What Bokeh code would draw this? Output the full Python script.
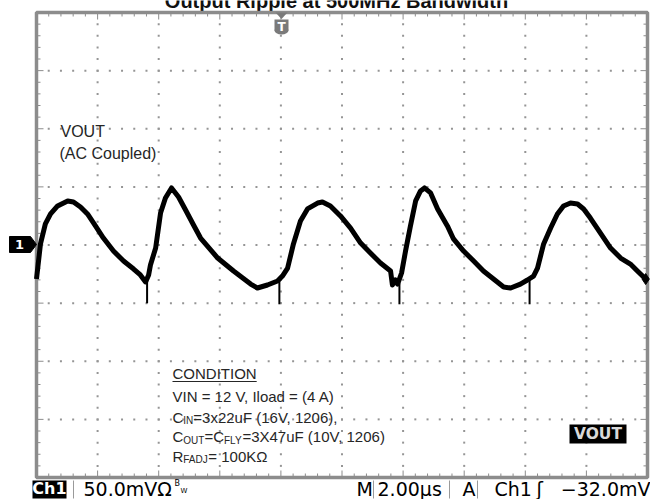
import numpy as np
from bokeh.plotting import figure
from bokeh.models import Range1d
from bokeh.core.properties import value
from bokeh.embed import file_html
from bokeh.resources import INLINE

# ---------------- data ----------------
# time in microseconds (2 us/div, 10 div), voltage in mV (50 mV/div, 8 div, AC coupled)
t_us = [0.00, 0.13, 0.29, 0.46, 0.69, 1.02, 1.21, 1.44, 1.67, 1.93,
        2.19, 2.52, 2.85, 3.18, 3.40, 3.57, 3.67, 3.73, 3.90, 4.06,
        4.22, 4.42, 4.65, 4.88, 5.14, 5.37, 5.93, 6.45, 7.01, 7.23,
        7.56, 7.89, 8.05, 8.22, 8.41, 8.64, 8.87, 9.20, 9.36, 9.62,
        9.95, 10.28, 10.61, 10.93, 11.26, 11.59, 11.65, 11.75, 11.82, 11.95,
        12.08, 12.24, 12.41, 12.57, 12.70, 12.90, 13.13, 13.45, 13.65, 13.98,
        14.31, 14.63, 14.96, 15.29, 15.52, 15.84, 16.07, 16.27, 16.40, 16.60,
        16.83, 17.05, 17.25, 17.48, 17.71, 17.91, 18.13, 18.46, 18.79, 19.12,
        19.44, 19.67, 19.94]
v_mV = [-29.3, 0.9, 18.1, 26.7, 33.6, 37.9, 37.0, 32.7, 26.7, 16.4,
        6.0, -5.2, -13.8, -20.7, -25.8, -31.8, -25.8, -17.2, -2.6, 27.5,
        40.4, 49.1, 41.3, 30.1, 17.2, 6.0, -11.2, -22.4, -33.6, -37.0,
        -34.4, -31.0, -26.7, -19.8, 0.9, 20.7, 31.0, 36.1, 37.0, 33.6,
        25.0, 14.6, 1.7, -6.9, -15.5, -22.4, -34.4, -30.1, -33.6, -24.1,
        -5.2, 16.4, 37.9, 46.5, 49.1, 44.8, 31.0, 16.4, 5.2, -5.2,
        -13.8, -22.4, -29.3, -36.1, -37.0, -33.6, -30.1, -26.7, -19.8, 0.9,
        14.6, 26.7, 33.6, 36.1, 35.3, 31.0, 23.2, 10.3, -2.6, -11.2,
        -16.4, -22.4, -29.3]
# switching spikes
spike_t = [3.62, 7.95, 11.88, 16.14]
spike_top = [-31.0, -30.0, -33.0, -29.0]
spike_bottom = [-50.0, -51.0, -51.0, -51.0]

us_per_div = 2.0
mV_per_div = 50.0
n_xdiv = 10
n_ydiv = 8

title_text = "Output Ripple at 500MHz Bandwidth"
trace_label = ["VOUT", "(AC Coupled)"]
status_ch = "Ch1"
status_scale = "50.0mVΩ"
status_time = "2.00µs"
status_trig_ch = "Ch1"
status_trig_level = "−32.0mV"

# ---------------- layout ----------------
W, H = 650, 499
gx0, gx1 = 36.0, 647.0      # graticule left/right in px
gy0, gy1 = 12.0, 477.0      # graticule top/bottom in px
t_max = us_per_div * n_xdiv
v_half = mV_per_div * n_ydiv / 2
ppu = (gx1 - gx0) / t_max           # px per us
ppm = (gy1 - gy0) / (2 * v_half)    # px per mV


def X(px):
    return (px - gx0) / ppu


def Y(py):
    return v_half - (py - gy0) / ppm


p = figure(width=W, height=H,
           x_range=Range1d(X(0), X(W)), y_range=Range1d(Y(H), Y(0)),
           output_backend="svg", toolbar_location=None,
           x_axis_location=None, y_axis_location=None,
           min_border=0, min_border_left=0, min_border_right=0,
           min_border_top=0, min_border_bottom=0)
p.outline_line_color = None
p.grid.visible = False
p.background_fill_color = "white"
p.border_fill_color = "white"

GRAY = "#8c8c8c"
DOT = "#959595"
TXT = "#262626"


def text(x, y, s, size, font="Liberation Sans", color=TXT, align="left",
         style="normal"):
    # y is the vertical centre of the capitals
    p.text(x=[x], y=[y], text=[s], text_font=value(font),
           text_font_size=value(f"{size}px"), text_color=color,
           text_align=align, text_baseline="middle", text_font_style=style)


# title (clipped at top like the original)
text(X(336), Y(0), title_text, 20, style="bold", color="#111111", align="center")

# ---------------- graticule ----------------
xmaj = np.arange(1, n_xdiv) * us_per_div
ymaj = (np.arange(1, n_ydiv) - n_ydiv / 2) * mV_per_div
xmin = np.arange(1, n_xdiv * 5) * us_per_div / 5
ymin = (np.arange(1, n_ydiv * 5) - n_ydiv * 5 / 2) * mV_per_div / 5

dx, dy = np.meshgrid(xmin, ymaj)
ex, ey = np.meshgrid(xmaj, ymin)
p.scatter(np.concatenate([dx.ravel(), ex.ravel()]),
          np.concatenate([dy.ravel(), ey.ravel()]),
          marker="square", size=2, fill_color=DOT, line_color=None)

# edge ticks
tl_x = np.where(np.isclose(xmin % us_per_div, 0), 7, 4) / ppm
tl_y = np.where(np.isclose(np.abs(ymin) % mV_per_div, 0), 7, 4) / ppu
p.segment(xmin, v_half, xmin, v_half - tl_x, line_color=GRAY, line_width=1)
p.segment(xmin, -v_half, xmin, -v_half + tl_x, line_color=GRAY, line_width=1)
p.segment(0, ymin, tl_y, ymin, line_color=GRAY, line_width=1)
p.segment(t_max, ymin, t_max - tl_y, ymin, line_color=GRAY, line_width=1)

p.quad(left=0, right=t_max, bottom=-v_half, top=v_half,
       fill_color=None, line_color=GRAY, line_width=3.5)

# ---------------- waveform ----------------
p.line(t_us, v_mV, line_color="black", line_width=5, line_join="round")
p.segment(spike_t, spike_top, spike_t, spike_bottom, line_color="black", line_width=2)
p.scatter([t_us[-1]], [v_mV[-1]], marker="diamond", size=11, color="black")

# ---------------- markers ----------------
# channel 1 ground marker
p.patch([X(9), X(30), X(36), X(30), X(9)],
        [Y(236), Y(236), Y(244), Y(252), Y(252)], fill_color="black", line_color="black")
text(X(19), Y(244), "1", 13, font="DejaVu Sans", color="white", align="center",
     style="bold")

# trigger position marker
tx = 281
p.patch([X(tx - 6), X(tx + 6), X(tx)], [Y(12), Y(12), Y(18.5)],
        fill_color="#7a7a7a", line_color=None)
p.rect([X(tx)], [Y(24.5)], width=14 / ppu, height=11 / ppm, fill_color="#7a7a7a", line_color=None)
p.ellipse([X(tx)], [Y(30)], width=14 / ppu, height=8 / ppm, fill_color="#7a7a7a", line_color=None)
text(X(tx), Y(26), "T", 12, font="DejaVu Sans", color="white", align="center",
     style="bold")

# ---------------- annotations ----------------
text(X(60), Y(131), trace_label[0], 16)
text(X(59), Y(152.5), trace_label[1], 16)

cx0 = 172
text(X(cx0), Y(373), "CONDITION", 15)
p.segment(X(cx0), Y(381), X(cx0 + 84.2), Y(381), line_color=TXT, line_width=1.2)
text(X(cx0), Y(395.5), "VIN = 12 V, Iload = (4 A)", 15)
# C_IN line
text(X(cx0), Y(416.5), "C", 15)
text(X(cx0 + 10.8), Y(420), "IN", 10)
text(X(cx0 + 20.8), Y(416.5), "=3x22uF (16V, 1206),", 15)
# C_OUT = C_FLY line
text(X(cx0), Y(436), "C", 15)
text(X(cx0 + 10.8), Y(439.5), "OUT", 10)
text(X(cx0 + 31.9), Y(436), "=C", 15)
text(X(cx0 + 51.5), Y(439.5), "FLY", 10)
text(X(cx0 + 69.9), Y(436), "=3X47uF (10V, 1206)", 15)
# R_FADJ line
text(X(cx0), Y(455.5), "R", 15)
text(X(cx0 + 10.8), Y(459), "FADJ", 10)
text(X(cx0 + 35.8), Y(455.5), "= 100KΩ", 15)

# VOUT tag box
p.quad(left=X(569), right=X(626), top=Y(424), bottom=Y(443),
       fill_color="black", line_color=None)
text(X(597.5), Y(433.5), "VOUT", 15.5, font="DejaVu Sans", color="#d9d9d9",
     align="center", style="bold")

# ---------------- status bar ----------------
SF = "DejaVu Sans"
sb = Y(488)
p.quad(left=X(32), right=X(66), top=Y(480), bottom=Y(498),
       fill_color="black", line_color=None)
text(X(49), sb, status_ch, 16, font=SF, color="white", align="center", style="bold")
p.segment([X(73), X(373), X(449), X(477)], Y(480),
          [X(73), X(373), X(449), X(477)], Y(498),
          line_color="#9a9a9a", line_width=1)
text(X(83), sb, status_scale, 19, font=SF, color="black")
text(X(174), Y(483), "B", 8, font=SF, color="black")
text(X(180), Y(490), "W", 7, font=SF, color="black")
text(X(356), sb, "M", 19, font=SF, color="black")
text(X(377), sb, status_time, 19, font=SF, color="black")
text(X(462), sb, "A", 19, font=SF, color="black")
text(X(494), sb, status_trig_ch, 19, font=SF, color="black")
text(X(536), sb, "ʃ", 19, font=SF, color="black")
text(X(650), sb, status_trig_level, 19, font=SF, color="black", align="right")

open("out.html", "w").write(file_html(p, INLINE))
